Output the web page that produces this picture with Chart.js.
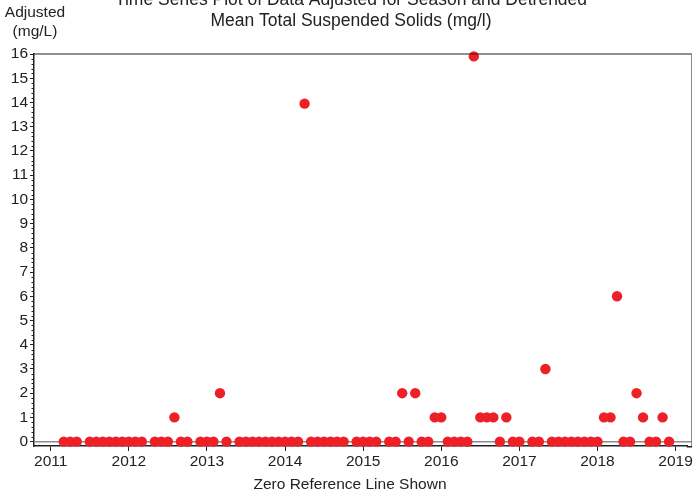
<!DOCTYPE html>
<html lang="en">
<head>
  <meta charset="UTF-8" />
  <title>Adjusted Mean Total Suspended Solids</title>
  <script src="https://cdn.jsdelivr.net/npm/chart.js"></script>
  <style>
    body { margin: 0; background: #fff; }
    #wrap { position: relative; width: 693px; height: 495px; }
  </style>
</head>
<body>
  <div id="wrap"><canvas id="chart" width="693" height="495"></canvas></div>

  <script>
    // Sample months (YYYY-MM) and the season-adjusted, detrended value (mg/L)
    const months = [
      '2011-03', '2011-04', '2011-05', '2011-07', '2011-08', '2011-09', '2011-10', '2011-11', '2011-12',
      '2012-01', '2012-02', '2012-03', '2012-05', '2012-06', '2012-07', '2012-08', '2012-09', '2012-10', '2012-12',
      '2013-01', '2013-02', '2013-03', '2013-04', '2013-06', '2013-07', '2013-08', '2013-09', '2013-10', '2013-11', '2013-12',
      '2014-01', '2014-02', '2014-03', '2014-04', '2014-05', '2014-06', '2014-07', '2014-08', '2014-09', '2014-10', '2014-12',
      '2015-01', '2015-02', '2015-03', '2015-05', '2015-06', '2015-07', '2015-08', '2015-09', '2015-10', '2015-11', '2015-12',
      '2016-01', '2016-02', '2016-03', '2016-04', '2016-05', '2016-06', '2016-07', '2016-08', '2016-09', '2016-10', '2016-11', '2016-12',
      '2017-01', '2017-03', '2017-04', '2017-05', '2017-06', '2017-07', '2017-08', '2017-09', '2017-10', '2017-11', '2017-12',
      '2018-01', '2018-02', '2018-03', '2018-04', '2018-05', '2018-06', '2018-07', '2018-08', '2018-09', '2018-10', '2018-11', '2018-12'
    ];
    const adjusted = [
      0, 0, 0, 0, 0, 0, 0, 0, 0,
      0, 0, 0, 0, 0, 0, 1, 0, 0, 0,
      0, 0, 2, 0, 0, 0, 0, 0, 0, 0, 0,
      0, 0, 0, 13.95, 0, 0, 0, 0, 0, 0, 0,
      0, 0, 0, 0, 0, 2, 0, 2, 0, 0, 1,
      1, 0, 0, 0, 0, 15.9, 1, 1, 1, 0, 1, 0,
      0, 0, 0, 3, 0, 0, 0, 0, 0, 0, 0,
      0, 1, 1, 6, 0, 0, 2, 1, 0, 0, 1, 0
    ];

    const yearTicks = [2011, 2012, 2013, 2014, 2015, 2016, 2017, 2018, 2019];
    const yMajorTicks = [0, 1, 2, 3, 4, 5, 6, 7, 8, 9, 10, 11, 12, 13, 14, 15, 16];

    const titleLines = [
      'Time Series Plot of Data Adjusted for Season and Detrended',
      'Mean Total Suspended Solids (mg/l)'
    ];
    const yLabelLines = ['Adjusted', '(mg/L)'];
    const xCaption = 'Zero Reference Line Shown';

    const FONT = '"Liberation Sans", Arial, Helvetica, sans-serif';
    const TEXT = '#222';
    const X_MIN = 2010.786, X_MAX = 2019.21;
    const PLOT_LEFT = 34, PLOT_RIGHT = 692; // wanted edges of the plot box

    // month string -> decimal year
    function toYear(m) {
      const [y, mo] = m.split('-').map(Number);
      return y + (mo - 1) / 12;
    }
    const points = months.map((m, i) => ({ x: toYear(m), y: adjusted[i] }));

    // titles, y label, caption, frame, zero line and minor ticks
    const decor = {
      id: 'decor',
      beforeDatasetsDraw(chart) {
        const { ctx, chartArea: a, scales: { y } } = chart;
        const y0 = y.getPixelForValue(0);
        ctx.save();
        ctx.strokeStyle = '#8c8c8c';
        ctx.lineWidth = 1.5;
        ctx.beginPath();
        ctx.moveTo(a.left, y0);
        ctx.lineTo(PLOT_RIGHT, y0);
        ctx.stroke();
        ctx.restore();
      },
      afterDraw(chart) {
        const { ctx, chartArea: a, scales: { y } } = chart;
        ctx.save();
        // frame: top, right, and bottom axis out to the right edge
        ctx.strokeStyle = '#222';
        ctx.lineWidth = 1.2;
        ctx.beginPath();
        ctx.moveTo(a.left, a.top);
        ctx.lineTo(PLOT_RIGHT, a.top);
        ctx.stroke();
        ctx.lineWidth = 1.5;
        ctx.beginPath();
        ctx.moveTo(a.right - 1, a.bottom + 0.75);
        ctx.lineTo(PLOT_RIGHT, a.bottom + 0.75);
        ctx.stroke();
        ctx.strokeStyle = '#8c8c8c';
        ctx.lineWidth = 1;
        ctx.beginPath();
        ctx.moveTo(PLOT_RIGHT - 0.5, a.top);
        ctx.lineTo(PLOT_RIGHT - 0.5, a.bottom);
        ctx.stroke();

        // minor ticks on the y axis, every 0.2
        ctx.strokeStyle = '#222';
        ctx.lineWidth = 1;
        for (let i = 0; i < yMajorTicks.length - 1; i++) {
          for (let j = 1; j < 5; j++) {
            const py = Math.round(y.getPixelForValue(yMajorTicks[i] + j * 0.2)) + 0.5;
            ctx.beginPath();
            ctx.moveTo(a.left - 2.5, py);
            ctx.lineTo(a.left, py);
            ctx.stroke();
          }
        }

        // text
        ctx.fillStyle = TEXT;
        ctx.textAlign = 'center';
        ctx.textBaseline = 'middle';
        ctx.font = '17.5px ' + FONT;
        ctx.fillText(titleLines[0], 351, 0);
        ctx.fillText(titleLines[1], 351, 21);
        ctx.font = '15.5px ' + FONT;
        ctx.fillText(yLabelLines[0], 35, 13);
        ctx.fillText(yLabelLines[1], 35, 32);
        ctx.fillText(xCaption, 350, 485);
        ctx.restore();
      }
    };

    const noPadding = () => ({ left: 0, top: 0, right: 0, bottom: 0 });

    const chart = new Chart(document.getElementById('chart'), {
      type: 'scatter',
      data: {
        datasets: [{
          data: points,
          backgroundColor: '#ee2027',
          borderWidth: 0,
          pointRadius: 5.2,
          pointHoverRadius: 5.2,
          clip: false
        }]
      },
      options: {
        responsive: false,
        animation: false,
        events: [],
        layout: { padding: { top: 54, right: 1, left: 0, bottom: 0 } },
        plugins: { legend: { display: false }, tooltip: { enabled: false } },
        scales: {
          x: {
            type: 'linear',
            min: X_MIN,
            max: X_MAX,
            afterFit: s => { s.height = 49; s.paddingLeft = 0; s.paddingRight = 0; s.getPadding = noPadding; },
            afterBuildTicks: s => { s.ticks = yearTicks.map(v => ({ value: v })); },
            ticks: {
              callback: v => String(v),
              color: TEXT,
              font: { family: FONT, size: 15.5 },
              padding: 1,
              maxRotation: 0
            },
            grid: { drawOnChartArea: false, tickLength: 5, tickColor: '#222', tickWidth: 1 },
            border: { color: '#222', width: 1.5 }
          },
          y: {
            min: -0.18,
            max: 16,
            afterFit: s => { s.width = 34; },
            afterBuildTicks: s => { s.ticks = yMajorTicks.map(v => ({ value: v })); },
            ticks: {
              callback: v => String(v),
              color: TEXT,
              font: { family: FONT, size: 15.5 },
              padding: 2
            },
            grid: { drawOnChartArea: false, tickLength: 4, tickColor: '#222', tickWidth: 1 },
            border: { color: '#222', width: 1.5 }
          }
        }
      },
      plugins: [decor]
    });

    // if the last tick label still pulled the plot in, keep the px-per-year
    // of the full-width box by trimming the x max instead
    const area = chart.chartArea;
    if (PLOT_RIGHT - area.right > 0.5) {
      const pxPerYear = (PLOT_RIGHT - PLOT_LEFT) / (X_MAX - X_MIN);
      chart.options.scales.x.max = X_MIN + (area.right - area.left) / pxPerYear;
      chart.update();
    }
  </script>
</body>
</html>
